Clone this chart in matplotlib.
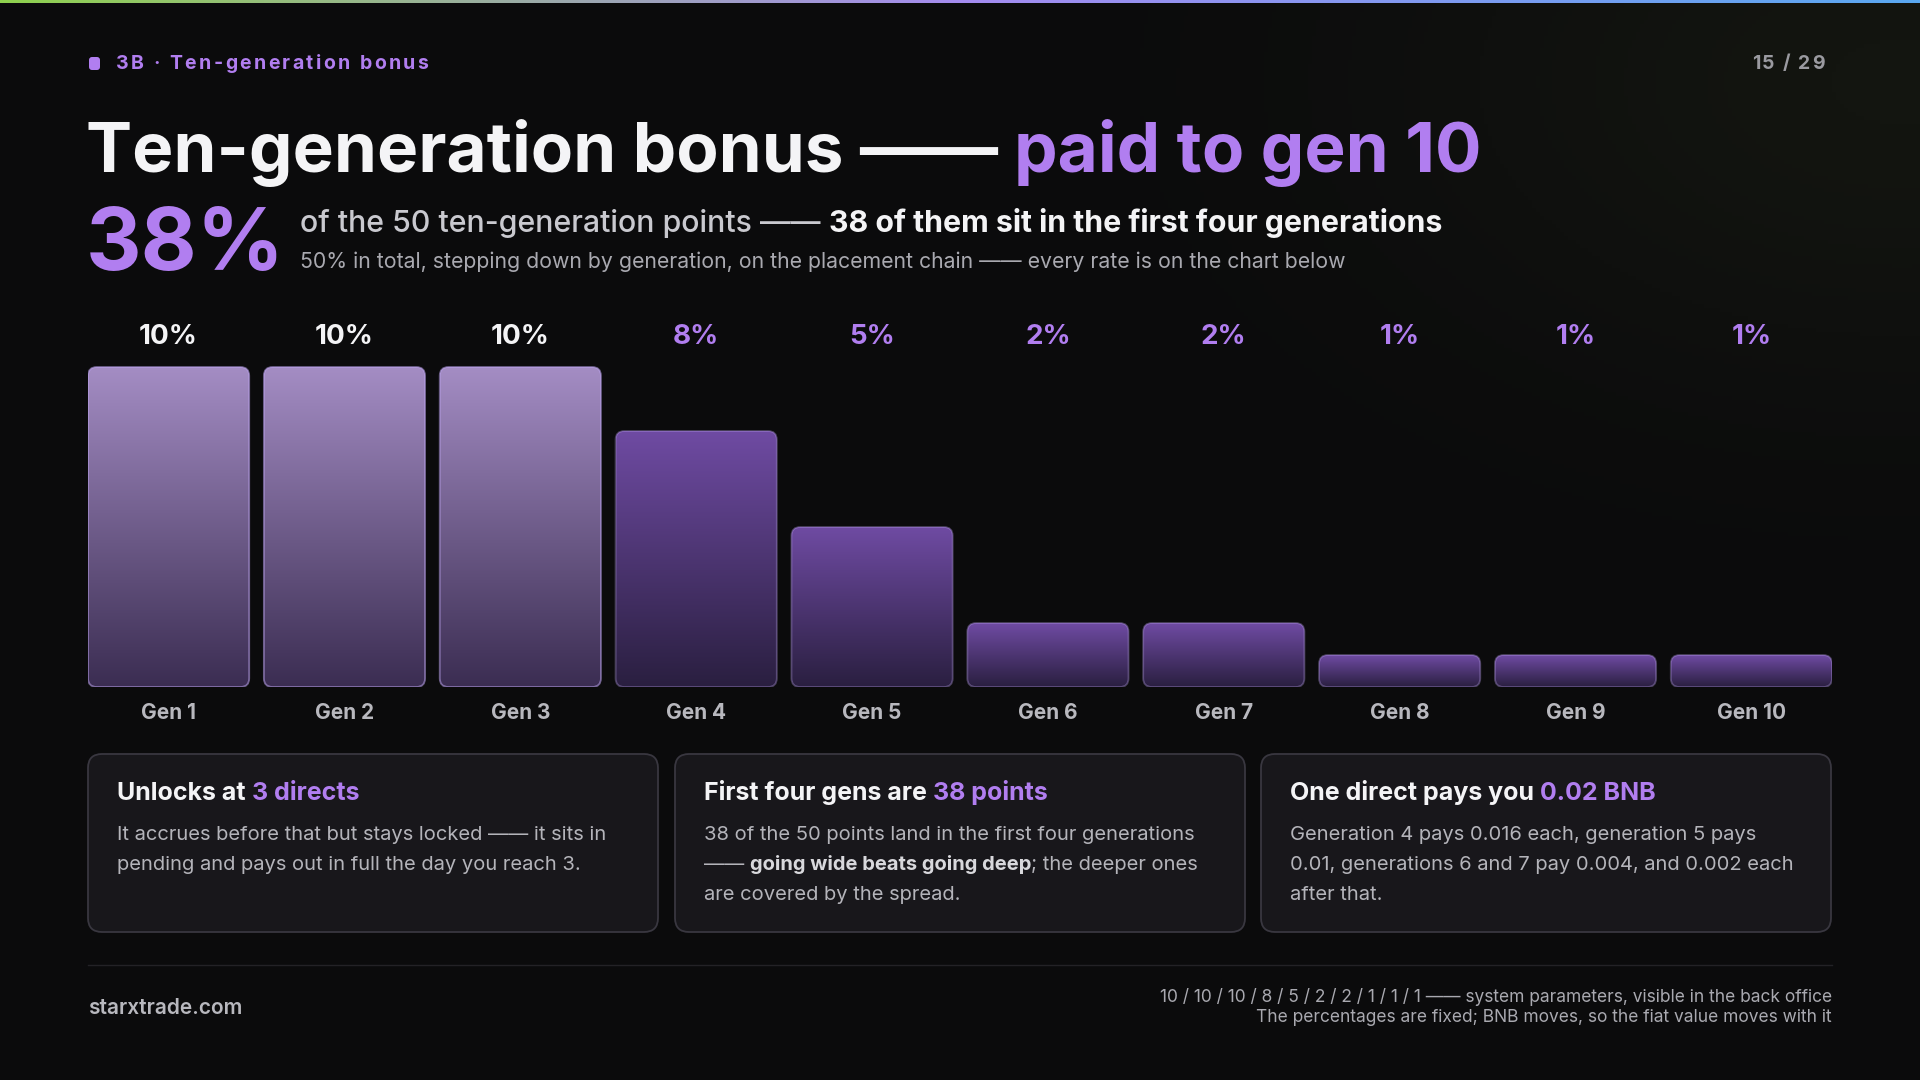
import matplotlib
matplotlib.use("Agg")
import matplotlib.pyplot as plt
import numpy as np
from matplotlib.patches import FancyBboxPatch
from matplotlib.colors import LinearSegmentedColormap

gens = ["Gen 1", "Gen 2", "Gen 3", "Gen 4", "Gen 5", "Gen 6", "Gen 7", "Gen 8", "Gen 9", "Gen 10"]
rates = [10, 10, 10, 8, 5, 2, 2, 1, 1, 1]
value_labels = ["10%", "10%", "10%", "8%", "5%", "2%", "2%", "1%", "1%", "1%"]

PURPLE = "#b17ef0"
WHITE = "#f4f4f6"
GRAY = "#c9c9cf"
BG = "#0b0b0c"
FONT = ["Inter", "DejaVu Sans"]

fig = plt.figure(figsize=(19.2, 10.8), dpi=100, facecolor=BG)
bg = fig.add_axes([0, 0, 1, 1])
bg.axis("off")
bg.set_facecolor(BG)
yy, xx = np.mgrid[0:1080:4, 0:1920:4]
glow = np.exp(-(((xx - 1900) / 500) ** 2 + ((yy - 80) / 300) ** 2)) * 0.08
bgimg = np.zeros(glow.shape + (3,))
bgimg[:] = np.array([11, 11, 12]) / 255
bgimg += glow[..., None] * np.array([0.4, 0.5, 0.2])
bg.imshow(np.clip(bgimg, 0, 1), extent=[0, 1920, 1080, 0], aspect="auto", zorder=0)
topc = LinearSegmentedColormap.from_list("t", ["#8fd14f", "#a58cf0", "#5aa8f0"])
bg.imshow(np.linspace(0, 1, 256)[None, :], cmap=topc, extent=[0, 1920, 3, 0], aspect="auto", zorder=1)
bg.set_xlim(0, 1920); bg.set_ylim(1080, 0)

renderer = fig.canvas.get_renderer()

def runs(x, y, parts, size, ha="left", va="baseline"):
    cx = x
    for t, c, w in parts:
        tt = bg.text(cx, y, t, color=c, fontsize=size, fontweight=w, family=FONT, va=va, ha="left", zorder=5)
        cx += tt.get_window_extent(renderer=renderer).width
    return cx

def spaced(x, y, s, color, size, spacing, weight="bold"):
    cx = x
    for ch in s:
        tt = bg.text(cx, y, ch, color=color, fontsize=size, fontweight=weight, family=FONT, va="center", zorder=5)
        cx += tt.get_window_extent(renderer=renderer).width + spacing
    return cx

bg.add_patch(FancyBboxPatch((89, 57), 11, 13, boxstyle="round,pad=0,rounding_size=3", fc=PURPLE, ec="none", zorder=5))
spaced(116, 64, "3B · Ten-generation bonus", PURPLE, 14, 2.4)
spaced(1752, 64, "15 / 29", "#9a9aa0", 14, 1.8)

runs(86, 172, [("Ten-generation bonus —— ", WHITE, "bold"), ("paid to gen 10", PURPLE, "bold")], 49.8)
bg.text(86, 270, "38%", color=PURPLE, fontsize=62, fontweight="bold", family=FONT, va="baseline", zorder=5)
runs(300, 232, [("of the 50 ten-generation points —— ", GRAY, "medium"),
                ("38 of them sit in the first four generations", WHITE, "bold")], 21.8)
bg.text(300, 268, "50% in total, stepping down by generation, on the placement chain —— every rate is on the chart below",
        color="#a9a9b0", fontsize=15.3, family=FONT, va="baseline", zorder=5)

x0, x1 = 88, 1832
ybase, ytop = 687, 300
pxu = 32.0
ax = fig.add_axes([x0 / 1920, 1 - ybase / 1080, (x1 - x0) / 1920, (ybase - ytop) / 1080])
ax.axis("off")
ax.patch.set_alpha(0)
w = 132 / 144
slot = (x1 - x0) / (len(gens) - 1 + w)
light = LinearSegmentedColormap.from_list("l", ["#3b2d52", "#a48dc4"])
dark = LinearSegmentedColormap.from_list("d", ["#2a1f40", "#6f4ba3"])
grad = np.linspace(0, 1, 256)[:, None]
for i, (g, r, lab) in enumerate(zip(gens, rates, value_labels)):
    cm = light if r >= 10 else dark
    left = i - w / 2
    patch = FancyBboxPatch((left, 0), w, r, boxstyle="round,pad=0,rounding_size=0.05",
                           mutation_aspect=slot / pxu, fc="none",
                           ec=(0.75, 0.65, 0.95, 0.55 if r >= 10 else 0.35), lw=1.3, zorder=4)
    ax.add_patch(patch)
    im = ax.imshow(grad, cmap=cm, origin="lower", extent=[left, left + w, 0, r], aspect="auto", zorder=3)
    im.set_clip_path(patch)
    ax.text(i, (ybase - 337) / pxu, lab, ha="center", va="center", fontsize=20, fontweight="bold",
            color=WHITE if r >= 10 else PURPLE, family=FONT)
    ax.text(i, -(713 - ybase) / pxu, g, ha="center", va="center", fontsize=15, fontweight="bold",
            color="#b8b8be", family=FONT, zorder=5, clip_on=False)
ax.set_xlim(-w / 2, len(gens) - 1 + w / 2)
ax.set_ylim(0, (ybase - ytop) / pxu)

cards = [
    (88, [("Unlocks at ", WHITE, "bold"), ("3 directs", PURPLE, "bold")],
     [[("It accrues before that but stays locked —— it sits in", "#b4b4ba", "normal")],
      [("pending and pays out in full the day you reach 3.", "#b4b4ba", "normal")]]),
    (675, [("First four gens are ", WHITE, "bold"), ("38 points", PURPLE, "bold")],
     [[("38 of the 50 points land in the first four generations", "#b4b4ba", "normal")],
      [("—— ", "#b4b4ba", "normal"), ("going wide beats going deep", "#d8d8dc", "bold"), ("; the deeper ones", "#b4b4ba", "normal")],
      [("are covered by the spread.", "#b4b4ba", "normal")]]),
    (1261, [("One direct pays you ", WHITE, "bold"), ("0.02 BNB", PURPLE, "bold")],
     [[("Generation 4 pays 0.016 each, generation 5 pays", "#b4b4ba", "normal")],
      [("0.01, generations 6 and 7 pay 0.004, and 0.002 each", "#b4b4ba", "normal")],
      [("after that.", "#b4b4ba", "normal")]]),
]
for cx, title, lines in cards:
    bg.add_patch(FancyBboxPatch((cx, 754), 570, 178, boxstyle="round,pad=0,rounding_size=14",
                                fc="#18171b", ec="#393740", lw=1.3, zorder=2))
    runs(cx + 29, 800, title, 18)
    for k, ln in enumerate(lines):
        runs(cx + 29, 840 + k * 30, ln, 14.5)

bg.plot([88, 1832], [965, 965], color="#232226", lw=1, zorder=2)
bg.text(88, 1008, "starxtrade.com", color="#b8b8be", fontsize=15, fontweight="semibold", family=FONT, va="center", zorder=5)
bg.text(1832, 997, "10 / 10 / 10 / 8 / 5 / 2 / 2 / 1 / 1 / 1 —— system parameters, visible in the back office",
        color="#a9a9b0", fontsize=12.5, family=FONT, va="center", ha="right", zorder=5)
bg.text(1832, 1017, "The percentages are fixed; BNB moves, so the fiat value moves with it",
        color="#a9a9b0", fontsize=12.5, family=FONT, va="center", ha="right", zorder=5)

fig.savefig("out.png", dpi=100, facecolor=BG)
